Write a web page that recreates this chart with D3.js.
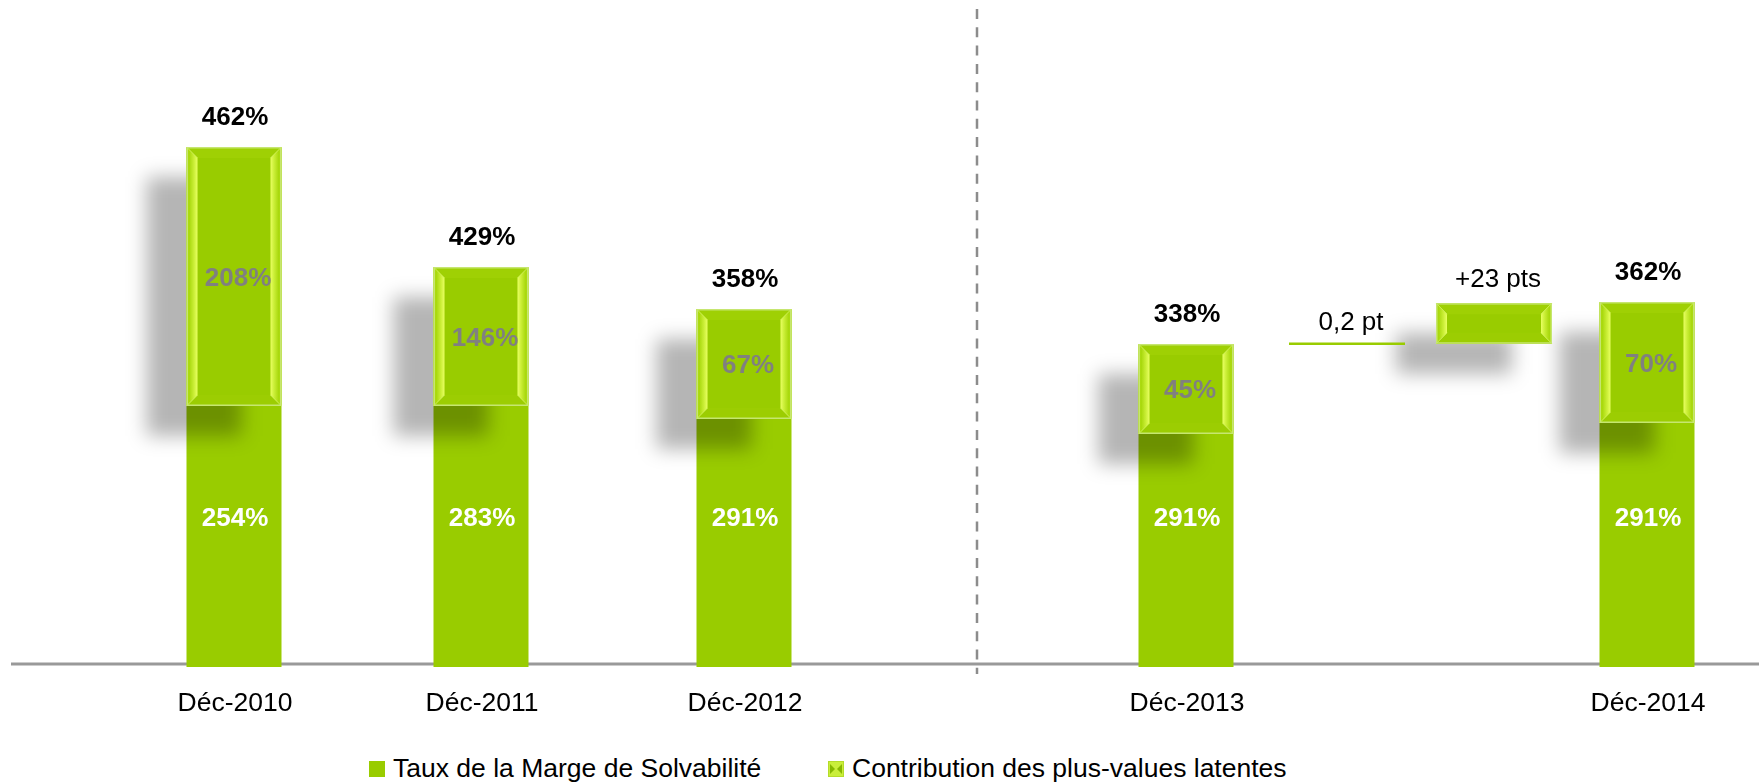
<!DOCTYPE html>
<html><head><meta charset="utf-8">
<script src="https://cdn.jsdelivr.net/npm/d3@7"></script>
<style>body{margin:0;background:#fff;overflow:hidden} svg{display:block}</style>
</head><body>
<script>
// ---- data ----
const categories = ["Déc-2010", "Déc-2011", "Déc-2012", "Déc-2013", "Déc-2014"];
const baseLabels = [254, 283, 291, 291, 291];          // Taux de la Marge de Solvabilité (label values)
const contribLabels = [208, 146, 67, 45, 70];          // Contribution des plus-values latentes (label values)
const totalLabels = [462, 429, 358, 338, 362];
// segment extents as drawn in the picture (chart units; the original is not to scale)
const baseDrawn = [206.4, 206.4, 196, 184, 192.8];
const contribDrawn = [207.2, 111.2, 88, 72, 96.8];
const bridgeLabels = ["0,2 pt", "+23 pts"];
const bridgeDrawn = [0.2, 32.5];
const legendLabels = ["Taux de la Marge de Solvabilité", "Contribution des plus-values latentes"];

// ---- setup ----
const W = 1759, H = 784;
const svg = d3.select("body").append("svg").attr("width", W).attr("height", H);
const defs = svg.append("defs");
const font = "'Liberation Sans', Arial, sans-serif";

const blur = defs.append("filter").attr("id", "shadow")
  .attr("x", "-60%").attr("y", "-60%").attr("width", "220%").attr("height", "220%");
blur.append("feGaussianBlur").attr("stdDeviation", 9.5);

const gl = defs.append("linearGradient").attr("id", "gradL").attr("x1", 0).attr("x2", 1).attr("y1", 0).attr("y2", 0);
[[0, "#b4e01a"], [0.25, "#a8d80c"], [0.7, "#cdf03a"], [1, "#e9ff62"]].forEach(([o, c]) => gl.append("stop").attr("offset", o).attr("stop-color", c));
const gr = defs.append("linearGradient").attr("id", "gradR").attr("x1", 0).attr("x2", 1).attr("y1", 0).attr("y2", 0);
[[0, "#e9ff62"], [0.3, "#cdf03a"], [0.75, "#a8d80c"], [1, "#b4e01a"]].forEach(([o, c]) => gr.append("stop").attr("offset", o).attr("stop-color", c));

const y = d3.scaleLinear().domain([0, 520]).range([664, 14]);
// slot positions along the x axis (left section: 3 years, right section: 2013 → bridge → 2014)
const slots = [...categories.slice(0, 4), ...bridgeLabels, categories[4]];
const x = d3.scaleOrdinal().domain(slots).range([234, 481, 744, 1186, 1347, 1494, 1647]);
const barW = 95, bridgeW = 116;
const green = "#99cc00";

// ---- axis & divider ----
svg.append("line").attr("x1", 11).attr("x2", W).attr("y1", y(0)).attr("y2", y(0))
  .attr("stroke", "#999").attr("stroke-width", 3);
svg.append("line").attr("x1", 977).attr("x2", 977).attr("y1", 9).attr("y2", 674)
  .attr("stroke", "#8c8c8c").attr("stroke-width", 2.5).attr("stroke-dasharray", "10 8.3");

const rows = categories.map((c, i) => ({
  c, base: baseDrawn[i], contrib: contribDrawn[i],
  bl: baseLabels[i], cl: contribLabels[i], tl: totalLabels[i]
}));

// base bars
svg.append("g").selectAll("rect").data(rows).join("rect")
  .attr("x", d => x(d.c) - barW / 2).attr("width", barW)
  .attr("y", d => y(d.base)).attr("height", d => y(0) - y(d.base) + 3)
  .attr("fill", green);

// bridge geometry
let level = rows[3].base + rows[3].contrib;
const bridges = bridgeLabels.map((l, i) => {
  const b = { l, from: level, to: level + bridgeDrawn[i] };
  level = b.to;
  return b;
});

// shadows
const sh = svg.append("g").attr("filter", "url(#shadow)");
sh.selectAll("rect.s").data(rows).join("rect")
  .attr("x", d => x(d.c) - barW / 2 - 40).attr("width", barW)
  .attr("y", d => y(d.base + d.contrib) + 30).attr("height", d => y(d.base) - y(d.base + d.contrib))
  .attr("fill", "#000").attr("opacity", 0.29);
sh.append("rect")
  .attr("x", x(bridges[1].l) - bridgeW / 2 - 40).attr("width", bridgeW)
  .attr("y", y(bridges[1].to) + 30).attr("height", y(bridges[1].from) - y(bridges[1].to))
  .attr("fill", "#000").attr("opacity", 0.29);

// bevelled bar
function bevel(g, x0, yy, w, h) {
  const b = Math.min(11, h / 3);
  const poly = pts => pts.map(p => p.join(",")).join(" ");
  g.append("rect").attr("x", x0).attr("y", yy).attr("width", w).attr("height", h).attr("fill", green);
  g.append("polygon").attr("points", poly([[x0, yy], [x0 + w, yy], [x0 + w - b, yy + b], [x0 + b, yy + b]])).attr("fill", "#9fd004");
  g.append("polygon").attr("points", poly([[x0, yy + h], [x0 + w, yy + h], [x0 + w - b, yy + h - b], [x0 + b, yy + h - b]])).attr("fill", "#9ccd02");
  g.append("polygon").attr("points", poly([[x0, yy], [x0 + b, yy + b], [x0 + b, yy + h - b], [x0, yy + h]])).attr("fill", "url(#gradL)");
  g.append("polygon").attr("points", poly([[x0 + w, yy], [x0 + w - b, yy + b], [x0 + w - b, yy + h - b], [x0 + w, yy + h]])).attr("fill", "url(#gradR)");
  g.append("path").attr("d", `M${x0},${yy}L${x0 + b},${yy + b}M${x0 + w},${yy}L${x0 + w - b},${yy + b}M${x0},${yy + h}L${x0 + b},${yy + h - b}M${x0 + w},${yy + h}L${x0 + w - b},${yy + h - b}`)
    .attr("stroke", "#d9f56a").attr("stroke-width", 1).attr("opacity", 0.8);
  g.append("rect").attr("x", x0 + 0.75).attr("y", yy + 0.75).attr("width", w - 1.5).attr("height", h - 1.5)
    .attr("fill", "none").attr("stroke", "#c6e670").attr("stroke-width", 1.5);
}

const cg = svg.append("g");
rows.forEach(d => {
  bevel(cg, x(d.c) - barW / 2, y(d.base + d.contrib), barW, y(d.base) - y(d.base + d.contrib));
});
// bridge: small step as line, +23 as bevelled bar
svg.append("line")
  .attr("x1", x(bridges[0].l) - bridgeW / 2).attr("x2", x(bridges[0].l) + bridgeW / 2)
  .attr("y1", y(bridges[0].to)).attr("y2", y(bridges[0].to))
  .attr("stroke", green).attr("stroke-width", 2.5);
bevel(cg, x(bridges[1].l) - bridgeW / 2, y(bridges[1].to), bridgeW, y(bridges[1].from) - y(bridges[1].to));

// ---- labels ----
const lab = svg.append("g").attr("font-family", font).attr("font-size", 26).attr("text-anchor", "middle");
lab.selectAll("text.tot").data(rows).join("text")
  .attr("x", d => x(d.c) + 1).attr("y", d => y(d.base + d.contrib) - 22)
  .attr("font-weight", "bold").attr("fill", "#000").text(d => d.tl + "%");
lab.selectAll("text.con").data(rows).join("text")
  .attr("x", d => x(d.c) + 4).attr("y", d => (y(d.base) + y(d.base + d.contrib)) / 2 + 9)
  .attr("font-weight", "bold").attr("fill", "#808080").text(d => d.cl + "%");
lab.selectAll("text.bas").data(rows).join("text")
  .attr("x", d => x(d.c) + 1).attr("y", y(118) + 9)
  .attr("font-weight", "bold").attr("fill", "#fff").text(d => d.bl + "%");
lab.selectAll("text.cat").data(rows).join("text")
  .attr("x", d => x(d.c) + 1).attr("y", 711).attr("font-size", 26.5)
  .attr("fill", "#000").text(d => d.c);
lab.selectAll("text.br").data(bridges).join("text")
  .attr("x", d => x(d.l) + 4).attr("y", d => y(d.to) - (d.to - d.from < 1 ? 14 : 16))
  .attr("fill", "#000").text(d => d.l);

// ---- legend ----
const lg = svg.append("g").attr("font-family", font).attr("font-size", 26.5);
const legX = [369, 828];
legendLabels.forEach((t, i) => {
  const g = lg.append("g").attr("transform", `translate(${legX[i]},761)`);
  if (i === 0) {
    g.append("rect").attr("width", 16).attr("height", 16).attr("fill", green);
  } else {
    g.append("rect").attr("width", 16).attr("height", 16).attr("fill", "#c9ee3a");
    g.append("polygon").attr("points", "2,3 7,8 2,13").attr("fill", "#86b800");
    g.append("polygon").attr("points", "14,3 9,8 14,13").attr("fill", "#86b800");
    g.append("rect").attr("x", 0.5).attr("y", 0.5).attr("width", 15).attr("height", 15).attr("fill", "none").attr("stroke", "#b5dc2a");
  }
  g.append("text").attr("x", 24).attr("y", 16).attr("fill", "#000").text(t);
});
</script>
</body></html>
